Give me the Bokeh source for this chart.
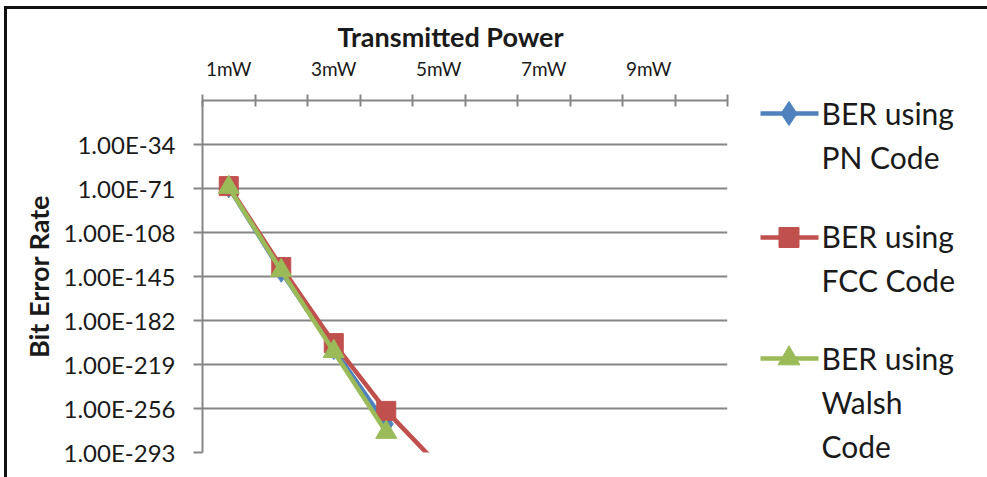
from bokeh.plotting import figure
from bokeh.models import Range1d, FixedTicker
from bokeh.layouts import row
from bokeh.core.properties import value
from bokeh.embed import file_html
from bokeh.resources import INLINE

# ---------------- data ----------------
power_labels = ["1mW", "2mW", "3mW", "4mW", "5mW", "6mW", "7mW", "8mW", "9mW", "10mW"]
power_index = [1, 2, 3, 4, 5, 6, 7, 8, 9, 10]

# log10(BER)
pn_log_ber = [-70, -141, -206, -269]
fcc_log_ber = [-69, -137, -201, -258, -304]
walsh_log_ber = [-70, -140, -208, -276]

y_tick_values = [-34, -71, -108, -145, -182, -219, -256, -293]
y_tick_labels = ["1.00E-34", "1.00E-71", "1.00E-108", "1.00E-145",
                 "1.00E-182", "1.00E-219", "1.00E-256", "1.00E-293"]
x_tick_values = [1, 3, 5, 7, 9]
x_tick_labels = ["1mW", "3mW", "5mW", "7mW", "9mW"]

series_names = [["BER using", "PN Code"], ["BER using", "FCC Code"], ["BER using", "Walsh", "Code"]]

# ---------------- style ----------------
FONT = "Lato"
GRID = "#868686"
TXT = "#1a1a1a"
BORDER = "#111111"
colors = ["#4F81BD", "#C0504D", "#9BBB59"]
markers = ["diamond", "square", "triangle"]
msizes = [21, 19, 21]
legend_msizes = [24, 20, 22]

MAIN_W = 760
H = 477

p = figure(width=MAIN_W, height=H, output_backend="svg", toolbar_location=None,
           x_range=Range1d(0.5, 10.5), y_range=Range1d(-293, 3),
           x_axis_location="above",
           min_border_left=202, min_border_right=33,
           min_border_top=100, min_border_bottom=25)
p.frame_align = False
p.outline_line_color = None
p.background_fill_color = "white"
p.border_fill_alpha = 0
p.styles = {
    "background-color": "#ffffff",
    "background-image": f"linear-gradient({BORDER}, {BORDER}), linear-gradient({BORDER}, {BORDER})",
    "background-position": "4px 6px, 4px 6px",
    "background-size": "3px 100%, 100% 3px",
    "background-repeat": "no-repeat, no-repeat",
}

# axis title above the category axis
p.title.text = "Transmitted Power"
p.title.align = "left"
p.title.offset = 135
p.title.text_font = FONT
p.title.text_font_style = "bold"
p.title.text_font_size = "27px"
p.title.text_color = TXT
p.title.standoff = 2

# x axis (top)
xa = p.xaxis[0]
boundaries = [i - 0.5 for i in power_index] + [power_index[-1] + 0.5]
xa.ticker = FixedTicker(ticks=x_tick_values, minor_ticks=boundaries)
xa.major_label_overrides = dict(zip(x_tick_values, x_tick_labels))
xa.major_tick_in = 0
xa.major_tick_out = 0
xa.minor_tick_in = 6
xa.minor_tick_out = 6
xa.minor_tick_line_color = GRID
xa.minor_tick_line_width = 2
xa.axis_line_color = GRID
xa.axis_line_width = 2
xa.major_label_standoff = 15
xa.major_label_text_font = FONT
xa.major_label_text_font_size = "19px"
xa.major_label_text_color = TXT

# y axis (left)
ya = p.yaxis[0]
ya.ticker = FixedTicker(ticks=y_tick_values, minor_ticks=[])
ya.major_label_overrides = dict(zip(y_tick_values, y_tick_labels))
ya.major_tick_in = 0
ya.major_tick_out = 9
ya.major_tick_line_color = GRID
ya.major_tick_line_width = 2
ya.minor_tick_in = 0
ya.minor_tick_out = 0
ya.axis_line_color = GRID
ya.axis_line_width = 2
ya.major_label_standoff = 18
ya.major_label_text_font = FONT
ya.major_label_text_font_size = "24px"
ya.major_label_text_color = TXT
ya.axis_label = "Bit Error Rate"
ya.axis_label_text_font = FONT
ya.axis_label_text_font_style = "bold"
ya.axis_label_text_font_size = "27px"
ya.axis_label_text_color = TXT
ya.axis_label_standoff = 6

p.xgrid.visible = False
p.ygrid.ticker = FixedTicker(ticks=y_tick_values, minor_ticks=[])
p.ygrid.grid_line_color = GRID
p.ygrid.grid_line_width = 2

all_series = [pn_log_ber, fcc_log_ber, walsh_log_ber]
for vals, c, m, s in zip(all_series, colors, markers, msizes):
    xs = power_index[:len(vals)]
    p.line(xs, vals, line_color=c, line_width=4.5)
    p.scatter(xs, vals, marker=m, size=s, fill_color=c, line_color=c)

# ---------------- legend panel (own canvas, pixel coordinates) ----------------
LEG_W = 987 - MAIN_W
pl = figure(width=LEG_W, height=H, output_backend="svg", toolbar_location=None,
            x_range=Range1d(MAIN_W, 987), y_range=Range1d(H, 0),
            x_axis_type=None, y_axis_type=None, min_border=0)
pl.frame_align = False
pl.outline_line_color = None
pl.background_fill_alpha = 0
pl.border_fill_alpha = 0
pl.grid.visible = False
pl.styles = {
    "background-color": "#ffffff",
    "background-image": f"linear-gradient({BORDER}, {BORDER})",
    "background-position": "0px 6px",
    "background-size": "100% 3px",
    "background-repeat": "no-repeat",
}

sample_x0, sample_x1, text_x = 759, 818, 821
sample_y = [113, 237, 358]
text_y0 = [112, 235, 357]
line_pitch = 44
for k, (names, c, m, s) in enumerate(zip(series_names, colors, markers, legend_msizes)):
    ys = sample_y[k]
    pl.line([sample_x0, sample_x1], [ys, ys], line_color=c, line_width=4.5)
    pl.scatter([(sample_x0 + sample_x1) / 2], [ys], marker=m, size=s, fill_color=c, line_color=c)
    pl.text(x=[text_x] * len(names), y=[text_y0[k] + line_pitch * j for j in range(len(names))],
            text=names, text_font=value(FONT), text_font_size=value("30px"),
            text_color=TXT, text_baseline="alphabetic", text_align="left")

open("out.html", "w").write(file_html(row(p, pl), INLINE))
